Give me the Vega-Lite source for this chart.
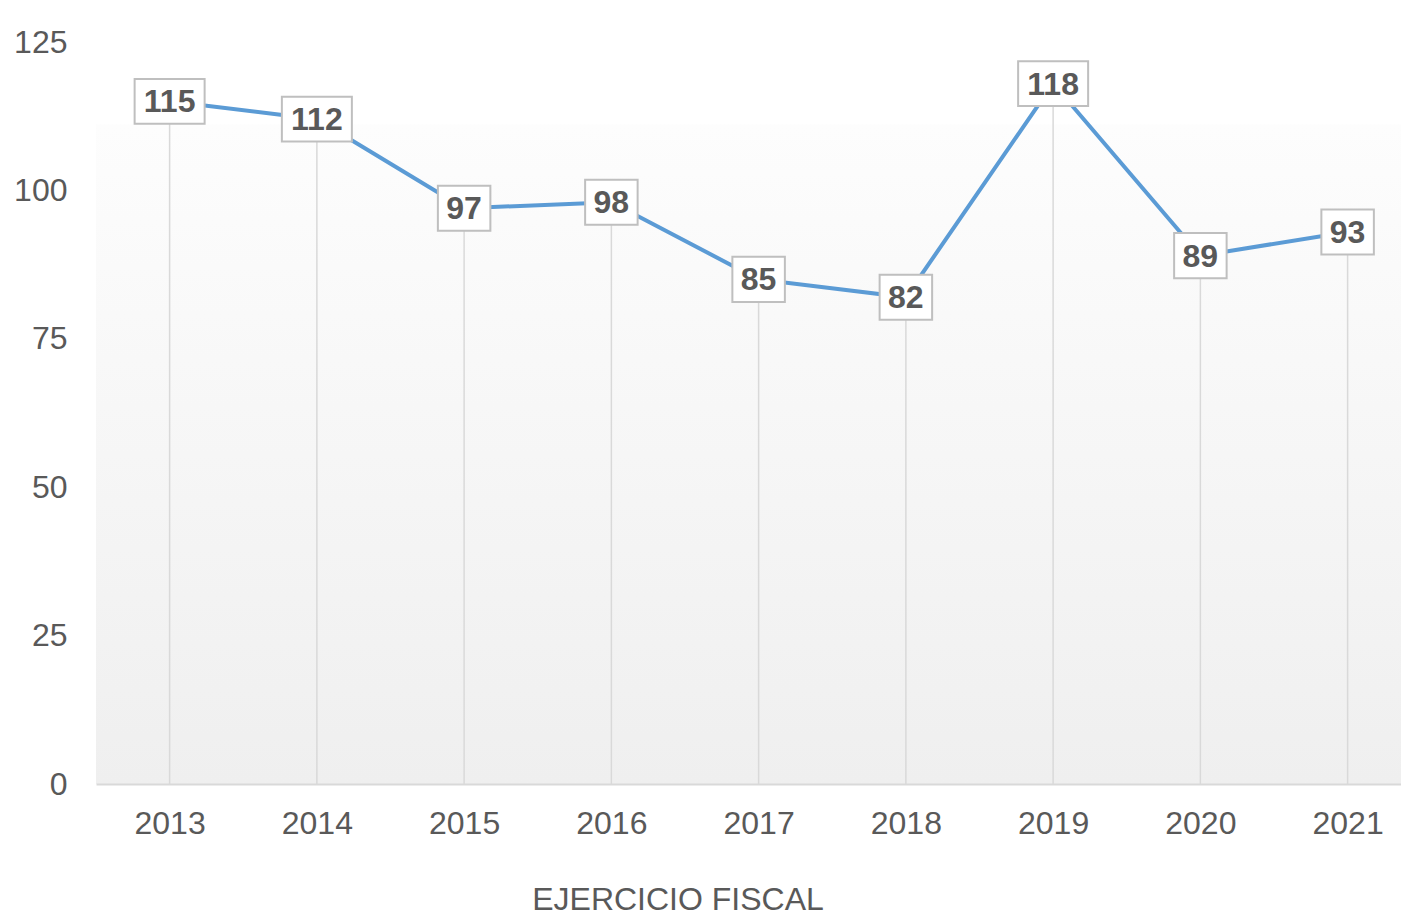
{
  "$schema": "https://vega.github.io/schema/vega-lite/v6.json",
  "autosize": {"type": "none"},
  "padding": {"left": 96, "top": 42, "right": 0, "bottom": 134},
  "width": 1305,
  "height": 742,
  "background": "#ffffff",
  "config": {
    "font": "Liberation Sans",
    "view": {
      "stroke": null,
      "fill": {
        "gradient": "linear",
        "x1": 0, "y1": 0, "x2": 0, "y2": 1,
        "stops": [
          {"offset": 0, "color": "#ffffff"},
          {"offset": 0.11, "color": "#ffffff"},
          {"offset": 0.112, "color": "#fdfdfd"},
          {"offset": 1, "color": "#efefef"}
        ]
      }
    }
  },
  "data": {
    "values": [
      {"year": 2013, "value": 115},
      {"year": 2014, "value": 112},
      {"year": 2015, "value": 97},
      {"year": 2016, "value": 98},
      {"year": 2017, "value": 85},
      {"year": 2018, "value": 82},
      {"year": 2019, "value": 118},
      {"year": 2020, "value": 89},
      {"year": 2021, "value": 93}
    ]
  },
  "encoding": {
    "x": {
      "field": "year",
      "type": "quantitative",
      "scale": {"domain": [2012.5, 2021.3625], "nice": false, "zero": false},
      "axis": {
        "values": [2013, 2014, 2015, 2016, 2017, 2018, 2019, 2020, 2021],
        "format": "d",
        "title": "EJERCICIO FISCAL",
        "titleFont": "Liberation Sans",
        "titleFontSize": 32,
        "titleFontWeight": "normal",
        "titleColor": "#595959",
        "titleX": 581.5,
        "titleY": 125,
        "titleAlign": "center",
        "titleBaseline": "alphabetic",
        "labelFontSize": 32,
        "labelColor": "#595959",
        "labelPadding": 24,
        "labelFlush": false,
        "labelOverlap": false,
        "ticks": false,
        "grid": false,
        "domainColor": "#d9d9d9",
        "domainWidth": 2
      }
    },
    "y": {
      "field": "value",
      "type": "quantitative",
      "scale": {"domain": [0, 125], "nice": false},
      "axis": {
        "values": [0, 25, 50, 75, 100, 125],
        "title": null,
        "labelFontSize": 32,
        "labelColor": "#595959",
        "labelPadding": 29,
        "ticks": false,
        "grid": false,
        "domain": false
      }
    }
  },
  "layer": [
    {
      "mark": {"type": "rule", "color": "#d9d9d9", "strokeWidth": 1.5},
      "encoding": {"y2": {"datum": 0}}
    },
    {
      "mark": {"type": "line", "color": "#5b9bd5", "strokeWidth": 4}
    },
    {
      "transform": [{"filter": "datum.value >= 100"}],
      "mark": {
        "type": "point",
        "shape": "M-1,-0.64H1V0.64H-1Z",
        "size": 4900,
        "filled": true,
        "fill": "#ffffff",
        "stroke": "#bfbfbf",
        "strokeWidth": 2,
        "opacity": 1
      }
    },
    {
      "transform": [{"filter": "datum.value < 100"}],
      "mark": {
        "type": "point",
        "shape": "M-1,-0.86H1V0.86H-1Z",
        "size": 2756,
        "filled": true,
        "fill": "#ffffff",
        "stroke": "#bfbfbf",
        "strokeWidth": 2,
        "opacity": 1
      }
    },
    {
      "mark": {
        "type": "text",
        "font": "Liberation Sans",
        "fontSize": 32,
        "fontWeight": "bold",
        "color": "#595959",
        "baseline": "middle",
        "align": "center",
        "dy": 1
      },
      "encoding": {"text": {"field": "value", "type": "quantitative"}}
    }
  ]
}
